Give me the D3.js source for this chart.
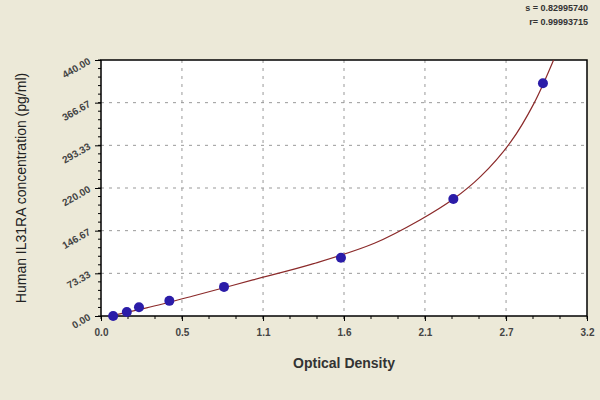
<!DOCTYPE html>
<html><head><meta charset="utf-8">
<script src="https://cdn.jsdelivr.net/npm/d3@7"></script>
<style>body{margin:0;background:#ece9d8;}svg{display:block;font-family:Arial,"Liberation Sans",sans-serif;}</style>
</head><body>
<svg id="c" width="600" height="400"></svg>
<script>
let pointsOD=[0.08,0.17,0.25,0.45,0.81,1.58,2.32,2.91];
let pointsConc=[0,7,15,26,50,100,201,400];
let curveOD=[0.06,0.3,0.6,1.0,1.4,1.8,2.1,2.32,2.5,2.7,2.85,2.98];
let curveConc=[0,14,34,62,90,125,165,201,240,300,365,440];
let xTicks=[0,0.533,1.067,1.6,2.133,2.667,3.2];
let xTickLabels=["0.0","0.5","1.1","1.6","2.1","2.7","3.2"];
let yTicks=[0,73.33,146.67,220,293.33,366.67,440];
let yTickLabels=["0.00","73.33","146.67","220.00","293.33","366.67","440.00"];

let svg=d3.select('#c');
let L=101,R=587,T=60,B=316;
let x=d3.scaleLinear().domain([0,3.2]).range([L,R]);
let y=d3.scaleLinear().domain([0,440]).range([B,T]);

svg.append('rect').attr('x',L).attr('y',T).attr('width',R-L).attr('height',B-T).attr('fill','#fff');

// grid
svg.append('g').selectAll('line').data(xTicks.slice(1,-1)).join('line')
  .attr('x1',d=>x(d)).attr('x2',d=>x(d)).attr('y1',T).attr('y2',B)
  .attr('stroke','#999').attr('stroke-dasharray','3,5');
svg.append('g').selectAll('line').data(yTicks.slice(1,-1)).join('line')
  .attr('y1',d=>y(d)).attr('y2',d=>y(d)).attr('x1',L).attr('x2',R)
  .attr('stroke','#999').attr('stroke-dasharray','3,5');

// minor ticks
let xMinor=d3.range(0,19).map(i=>i*3.2/18);
let yMinor=d3.range(0,31).map(i=>i*440/30);
svg.append('g').selectAll('line').data(xMinor).join('line')
  .attr('x1',d=>x(d)).attr('x2',d=>x(d)).attr('y1',B).attr('y2',B+3).attr('stroke','#000');
svg.append('g').selectAll('line').data(yMinor).join('line')
  .attr('y1',d=>y(d)).attr('y2',d=>y(d)).attr('x1',L-3).attr('x2',L).attr('stroke','#000');

let xAxis=svg.append('g').attr('transform',`translate(0,${B})`)
  .call(d3.axisBottom(x).tickValues(xTicks).tickSize(5).tickFormat((d,i)=>xTickLabels[i]));
let yAxis=svg.append('g').attr('transform',`translate(${L},0)`)
  .call(d3.axisLeft(y).tickValues(yTicks).tickSize(6).tickFormat((d,i)=>yTickLabels[i]));
[xAxis,yAxis].forEach(a=>{a.select('.domain').remove();a.selectAll('text').attr('font-size',10).attr('font-weight','bold').attr('fill','#444');});
xAxis.selectAll('text').attr('dy','1.2em');
yAxis.selectAll('text').attr('dx','-2').attr('dy','0.2em')
  .each(function(){let t=d3.select(this);t.attr('transform',`rotate(-30,${t.attr('x')},0)`);});

svg.append('rect').attr('x',L).attr('y',T).attr('width',R-L).attr('height',B-T)
  .attr('fill','none').attr('stroke','#000').attr('stroke-width',1.5);

svg.append('clipPath').attr('id','cp').append('rect').attr('x',L).attr('y',0).attr('width',R-L).attr('height',B);
let line=d3.line().x(d=>x(d[0])).y(d=>y(d[1])).curve(d3.curveCatmullRom);
svg.append('path').datum(curveOD.map((d,i)=>[d,curveConc[i]])).attr('d',line)
  .attr('fill','none').attr('stroke','#8b2a2a').attr('stroke-width',1.2).attr('clip-path','url(#cp)');

svg.append('g').selectAll('circle').data(pointsOD).join('circle')
  .attr('cx',d=>x(d)).attr('cy',(d,i)=>y(pointsConc[i])).attr('r',5).attr('fill','#2b1ca8');

svg.append('text').attr('x',344).attr('y',368).attr('text-anchor','middle').attr('font-size',14).attr('font-weight','bold').attr('fill','#333').text('Optical Density');
svg.append('text').attr('transform','translate(26,188) rotate(-90)').attr('text-anchor','middle').attr('font-size',14).attr('fill','#222').text('Human IL31RA concentration (pg/ml)');
svg.append('text').attr('x',588).attr('y',11).attr('text-anchor','end').attr('font-size',9).attr('font-weight','bold').attr('fill','#333').text('s = 0.82995740');
svg.append('text').attr('x',588).attr('y',25).attr('text-anchor','end').attr('font-size',9).attr('font-weight','bold').attr('fill','#333').text('r= 0.99993715');
</script>
</body></html>
